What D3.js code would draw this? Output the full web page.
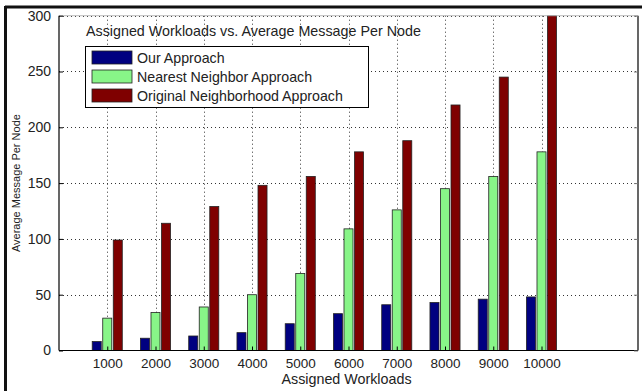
<!DOCTYPE html>
<html>
<head>
<meta charset="utf-8">
<script src="https://cdn.jsdelivr.net/npm/d3@7"></script>
<style>
  html, body { margin: 0; padding: 0; background: #fff; }
  svg { display: block; }
  text { font-family: "Liberation Sans", Arial, sans-serif; fill: #222; }
</style>
</head>
<body>
<svg id="chart" width="642" height="391"></svg>
<script>
// Workload sizes (x categories)
const workloads = [1000, 2000, 3000, 4000, 5000, 6000, 7000, 8000, 9000, 10000];
// Average message per node for each approach
const ourApproach = [8, 11, 13, 16, 24, 33, 41, 43, 46, 48];
const nearestNeighbor = [29, 34, 39, 50, 69, 109, 126, 145, 156, 178];
const originalNeighborhood = [99, 114, 129, 148, 156, 178, 188, 220, 245, 300];

const seriesNames = ["Our Approach", "Nearest Neighbor Approach", "Original Neighborhood Approach"];
const seriesColors = ["#000080", "#88f588", "#7f0000"];
const yTicks = [0, 50, 100, 150, 200, 250, 300];

const series = [ourApproach, nearestNeighbor, originalNeighborhood];

const svg = d3.select("#chart");
const W = 642, H = 391;
const pLeft = 59, pRight = 638, pTop = 15.7, pBottom = 350.5;

// outer frame edges (top and left)
svg.append("line").attr("x1", 5).attr("x2", W).attr("y1", 7).attr("y2", 7)
  .attr("stroke", "#111").attr("stroke-width", 3);
svg.append("line").attr("x1", 5.5).attr("x2", 5.5).attr("y1", 6).attr("y2", H)
  .attr("stroke", "#111").attr("stroke-width", 3);

const x = d3.scaleLinear().domain([0, 12000]).range([pLeft, pRight]);
const y = d3.scaleLinear().domain([0, 300]).range([pBottom, pTop]);

// grid lines
const grid = svg.append("g");
grid.selectAll("line.v").data(workloads).join("line")
  .attr("x1", d => Math.round(x(d)) + 0.5).attr("x2", d => Math.round(x(d)) + 0.5)
  .attr("y1", pTop).attr("y2", pBottom)
  .attr("stroke", "#333").attr("stroke-width", 1).attr("stroke-dasharray", "1,3");
grid.selectAll("line.h").data(yTicks.filter(v => v > 0)).join("line")
  .attr("x1", pLeft).attr("x2", pRight)
  .attr("y1", d => Math.round(y(d)) + 0.5).attr("y2", d => Math.round(y(d)) + 0.5)
  .attr("stroke", "#333").attr("stroke-width", 1).attr("stroke-dasharray", "1,3");

// bars
const offset = 218, barW = 187;
const bars = svg.append("g");
series.forEach((vals, si) => {
  bars.selectAll(null).data(vals.map((v, i) => ({ v, c: workloads[i] }))).join("rect")
    .attr("x", d => x(d.c + (si - 1) * offset - barW / 2))
    .attr("width", x(barW) - x(0))
    .attr("y", d => y(d.v))
    .attr("height", d => y(0) - y(d.v))
    .attr("fill", seriesColors[si])
    .attr("stroke", "#222").attr("stroke-width", 0.8);
});

// axes box
svg.append("line").attr("x1", pLeft).attr("x2", pLeft).attr("y1", pTop).attr("y2", pBottom)
  .attr("stroke", "#000").attr("stroke-width", 1.2);
svg.append("line").attr("x1", pLeft).attr("x2", pRight).attr("y1", pBottom).attr("y2", pBottom)
  .attr("stroke", "#000").attr("stroke-width", 1.2);
svg.append("line").attr("x1", pRight).attr("x2", pRight).attr("y1", pTop).attr("y2", pBottom)
  .attr("stroke", "#000").attr("stroke-width", 1.2);
svg.append("line").attr("x1", pLeft).attr("x2", pRight).attr("y1", pTop).attr("y2", pTop)
  .attr("stroke", "#bbb").attr("stroke-width", 1);

// y axis ticks and labels
const yAxis = d3.axisLeft(y).tickValues(yTicks).tickSize(-4).tickPadding(8).tickFormat(d3.format("d"));
const gy = svg.append("g").attr("transform", `translate(${pLeft},0)`).call(yAxis);
gy.select(".domain").remove();
gy.selectAll("text").style("font-size", "14px").attr("fill", "#222");
gy.selectAll("line").attr("stroke", "#000");
// right-side inward ticks
const yAxisR = d3.axisRight(y).tickValues(yTicks).tickSize(-4).tickFormat("");
const gyr = svg.append("g").attr("transform", `translate(${pRight},0)`).call(yAxisR);
gyr.select(".domain").remove();
gyr.selectAll("line").attr("stroke", "#777");

// x axis ticks and labels
const xAxis = d3.axisBottom(x).tickValues(workloads).tickSize(-4).tickPadding(8).tickFormat(d3.format("d"));
const gx = svg.append("g").attr("transform", `translate(0,${pBottom})`).call(xAxis);
gx.select(".domain").remove();
gx.selectAll("text").style("font-size", "13.5px").attr("fill", "#222");
gx.selectAll("line").attr("stroke", "#000");

// axis titles
svg.append("text").attr("x", (pLeft + pRight) / 2 - 2).attr("y", 384)
  .attr("text-anchor", "middle").style("font-size", "14.3px").text("Assigned Workloads");
svg.append("text")
  .attr("transform", `translate(19.5,${(pTop + pBottom) / 2}) rotate(-90)`)
  .attr("text-anchor", "middle").style("font-size", "11px").text("Average Message Per Node");

// chart title inside the axes
svg.append("text").attr("x", 86).attr("y", 36)
  .style("font-size", "14.3px").text("Assigned Workloads vs. Average Message Per Node");

// legend
const lg = svg.append("g");
lg.append("rect").attr("x", 85.5).attr("y", 46.5).attr("width", 283).attr("height", 61)
  .attr("fill", "#fff").attr("stroke", "#000").attr("stroke-width", 1);
seriesNames.forEach((name, i) => {
  const yy = 51 + i * 19;
  lg.append("rect").attr("x", 92).attr("y", yy).attr("width", 40).attr("height", 13)
    .attr("fill", seriesColors[i]).attr("stroke", "#222").attr("stroke-width", 0.8);
  lg.append("text").attr("x", 137).attr("y", yy + 12)
    .style("font-size", "14.2px").text(name);
});
</script>
</body>
</html>
